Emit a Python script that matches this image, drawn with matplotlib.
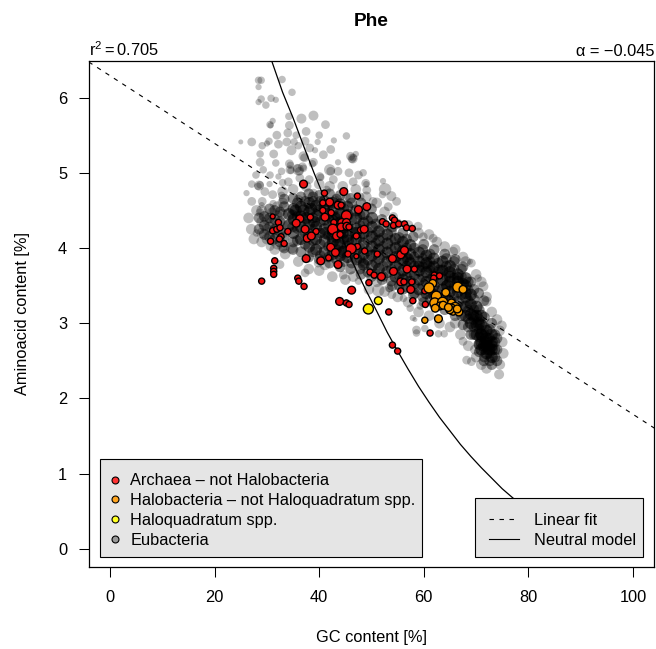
import matplotlib
matplotlib.use("Agg")
import matplotlib.pyplot as plt
from matplotlib.lines import Line2D
from matplotlib.patches import Rectangle
import numpy as np

plt.rcParams['font.family'] = ['Liberation Sans', 'DejaVu Sans']
plt.rcParams['mathtext.fontset'] = 'custom'
plt.rcParams['mathtext.rm'] = 'Liberation Sans'
plt.rcParams['mathtext.it'] = 'Liberation Sans'

# (GC %, aminoacid %, genome size)
archaea = [
    (37.0,4.85,7),(41.0,4.73,5.5),(44.7,4.75,7),(47.3,4.69,5.5),(40.7,4.60,5.5),(42.0,4.61,7),(43.6,4.57,7),
    (44.2,4.57,5.5),(49.1,4.55,7),(40.7,4.50,5.5),(42.3,4.47,5.5),(47.5,4.51,7),(45.2,4.43,9),(31.1,4.42,4.5),
    (36.3,4.39,7),(38.3,4.41,5.5),(41.1,4.41,7),(32.2,4.34,5.5),(35.6,4.33,7),(42.8,4.34,5.5),(44.3,4.34,7),
    (45.2,4.34,7),(37.3,4.25,7),(39.4,4.22,5.5),(42.6,4.25,9),(44.2,4.28,7),(45.3,4.29,7),(45.7,4.28,5.5),
    (47.9,4.24,5.5),(48.6,4.25,7),(31.1,4.23,5.5),(31.9,4.25,5.5),(32.5,4.27,5.5),(34.0,4.22,5.5),(43.3,4.16,7),
    (44.0,4.18,5.5),(47.1,4.16,5.5),(37.7,4.13,7),(38.5,4.16,7),(32.7,4.15,5.5),(32.4,4.12,5.5),(30.7,4.09,5.5),
    (33.3,4.06,5.5),(42.2,4.01,7),(47.3,4.02,5.5),(46.1,3.99,9),(43.1,3.94,7),(48.7,3.96,5.5),(45.5,3.92,5.5),
    (51.1,3.92,5.5),(47.1,3.89,4.5),(37.5,3.86,7),(40.3,3.83,7),(41.8,3.87,5.5),(31.5,3.83,5.5),(43.6,3.78,7),
    (54.0,3.86,7),(31.3,3.73,5.5),(31.3,3.69,5.5),(31.3,3.65,5.5),(29.0,3.56,5.5),(35.9,3.60,5.5),(36.1,3.56,5.5),
    (37.1,3.49,5.5),(49.7,3.68,5.5),(50.5,3.64,5.5),(51.9,3.62,7),(49.5,3.54,5.5),(54.2,3.69,7),(46.2,3.44,7),
    (43.9,3.29,7),(45.2,3.27,5.5),(45.7,3.25,5.5),(53.3,3.15,5.5),(52.1,4.35,5.5),(52.8,4.32,5.5),(54.0,4.40,5.5),
    (54.4,4.37,5.5),(54.2,4.30,5.5),(55.2,4.32,5.5),(56.3,4.32,5.5),(56.7,4.27,5.5),(57.8,4.26,5.5),(55.6,3.91,7),
    (56.3,3.97,7),(56.8,3.72,7),(58.2,3.72,5.5),(62.0,3.64,5.5),(63.0,3.63,5.5),(61.9,3.60,5.5),(55.6,3.55,7),
    (56.2,3.55,5.5),(57.7,3.55,5.5),(55.6,3.43,5.5),(57.5,3.45,7),(60.2,3.43,5.5),(57.9,3.30,5.5),(60.3,3.25,5.5),
    (61.2,2.87,5.5),(54.0,2.71,5.5),(55.0,2.63,5.5),
]
halobacteria = [
    (61.7,3.53,7),(61.0,3.47,9),(62.4,3.36,9),(64.2,3.41,7),(66.5,3.48,9),(67.5,3.45,7),(62.1,3.27,9),
    (63.6,3.28,9),(63.1,3.23,7),(62.2,3.20,7),(63.7,3.24,7),(65.3,3.27,7),(66.0,3.21,9),(65.2,3.19,9),
    (65.6,3.16,7),(66.7,3.15,7),(65.0,3.18,7),(66.4,3.19,7),(60.2,3.04,5.5),(62.8,3.06,7),(64.7,3.21,7),
]
haloquadratum = [(51.3,3.30,7),(49.4,3.19,9)]

# lone bacteria, mostly above and below the main band
eub_pale = [
    (28.4,6.23,6),(28.9,6.23,6),(28.4,6.14,5),(32.9,6.24,6),(34.8,6.07,6),(28.9,5.98,6),(28.4,5.94,5),(29.8,5.90,6),
    (30.8,5.99,6),(31.7,5.97,5),(38.9,5.76,8),(36.6,5.72,8),(34.2,5.75,6),(31.1,5.69,5),(30.6,5.64,6),(30.7,5.63,5),
    (34.3,5.63,7),(41.2,5.64,7),(31.9,5.50,7),(34.0,5.53,7),(37.5,5.55,7),(35.6,5.50,6),(40.0,5.50,6),(45.2,5.49,6),
    (25.0,5.41,4),(27.1,5.41,7),(30.4,5.42,6),(29.1,5.36,6),(32.2,5.38,7),(30.0,5.39,5),(33.8,5.41,7),(37.3,5.42,7),
    (42.8,5.43,5),(35.2,5.41,6),(39.7,5.41,5),(36.0,5.36,6),(34.7,5.30,8),(38.2,5.33,7),(42.2,5.31,7),(31.3,5.25,7),
    (37.0,5.22,8),(37.2,5.20,7),(39.2,5.30,5),(28.7,5.25,6),(40.8,5.24,7),(46.4,5.19,8),(46.5,5.20,6),(46.3,5.18,6),
    (46.0,5.22,7),(47.0,5.25,5),(28.7,5.14,7),(31.7,5.13,6),(34.3,5.12,7),(34.5,5.10,6),(36.8,5.08,7),(37.0,5.06,6),
    (38.9,5.14,7),(38.7,5.12,6),(43.6,5.14,5),(29.3,5.04,6),(36.0,5.04,9),(36.2,5.02,7),(35.8,5.06,7),(34.4,5.04,7),
    (34.6,5.03,6),(32.8,5.02,6),(42.0,5.04,9),(42.2,5.02,7),(43.6,5.02,7),(45.7,5.00,7),(48.4,5.00,6),(27.9,4.97,6),
    (30.6,4.97,6),(32.2,4.95,5),(40.1,4.95,7),(40.3,4.94,6),(47.5,4.97,7),(38.1,4.91,7),(36.3,4.93,7),(42.7,4.91,7),
    (46.5,4.88,7),(48.9,4.86,7),(49.0,4.85,5),(52.2,4.89,5),(27.1,4.85,6),(28.5,4.83,8),(28.7,4.84,6),(28.3,4.82,6),
    (30.5,4.85,5),(33.0,4.87,6),(34.1,4.88,7),(26.1,4.73,5),(29.6,4.75,7),(31.1,4.71,7),(32.8,4.70,6),(27.1,4.62,7),
    (29.1,4.62,7),(31.2,4.59,6),(29.0,4.57,5),(52.6,4.78,10),(52.1,4.71,6),(53.8,4.69,8),(54.8,4.62,7),(50.3,4.62,7),
    (36.0,4.64,8),(38.9,4.73,7),(41.4,4.77,7),(43.0,4.64,7),(45.2,4.68,7),(47.8,4.68,7),(49.1,4.77,7),(28.7,4.47,7),
    (53.2,4.55,7),(54.2,4.42,7),(54.8,4.33,7),(28.0,4.20,6),(30.6,4.02,7),(34.7,4.00,9),(32.5,3.78,7),(41.1,3.78,9),
    (39.8,3.80,7),(37.3,3.67,7),(44.6,3.64,7),(47.5,3.56,6),(48.4,3.80,9),(48.6,3.79,7),(48.2,3.81,7),(58.9,4.29,7),
    (59.9,4.15,7),(61.8,4.13,7),(65.6,3.95,8),(69.1,3.80,7),(68.8,3.82,5),(70.4,3.60,6),(71.4,3.49,8),(72.0,3.29,8),
    (74.9,2.97,8),(67.5,2.76,7),(69.8,2.65,8),(68.2,2.51,7),(69.1,2.49,7),(74.6,2.45,8),(74.4,2.32,8),(58.6,2.91,7),
    (58.6,2.87,6),(60.2,2.93,6),(62.8,2.86,6),(63.9,2.86,6),(57.4,3.20,6),(57.9,3.07,5),(58.3,3.05,4),(51.3,3.44,10),
    (53.9,3.38,7),(53.4,3.47,7),(53.5,3.46,6),(56.1,3.33,6),(59.3,3.23,6),
]
# rim of the main band and its paler left lobe
eub_rim = [
    (29.0,4.08),(31.5,3.98),(33.5,3.92),(36.0,3.82),(38.0,3.72),(40.0,3.70),(42.5,3.62),(45.0,3.58),(46.5,3.62),
    (49.5,3.45),(51.0,3.55),(52.5,3.42),(55.0,3.35),(57.0,3.28),(59.0,3.15),(61.0,3.10),(63.0,3.00),(65.0,2.95),
    (67.0,2.85),(66.0,3.00),(68.5,2.70),(70.0,2.55),(72.0,2.40),(71.0,2.45),(33.0,4.75),(35.0,4.78),(37.5,4.82),
    (40.0,4.85),(42.0,4.82),(44.5,4.82),(47.0,4.78),(49.0,4.68),(51.0,4.60),(52.5,4.48),(55.0,4.32),(57.0,4.30),
    (59.0,4.20),(61.0,4.18),(62.5,4.08),(64.0,4.02),(66.0,3.98),(67.5,3.88),(68.0,3.82),(70.0,3.65),(71.0,3.55),
    (72.0,3.35),(73.0,3.15),(74.0,3.05),(75.0,2.75),(75.2,2.60),(74.5,2.90),(26.5,4.40),(27.0,4.25),(27.5,4.12),
    (28.0,4.50),(29.0,4.20),(29.0,4.35),(29.0,4.50),(30.0,4.12),(30.0,4.25),(30.0,4.38),(31.0,4.10),(31.0,4.22),
    (31.0,4.35),(31.0,4.47),(32.0,4.05),(32.0,4.18),(32.0,4.30),(32.0,4.43),(32.0,4.55),(33.0,4.02),(33.0,4.20),
    (33.0,4.32),(33.0,4.45),(33.0,4.60),
]

# main band, read as columns (GC %, [aminoacid %]), stacked where the picture goes darker
eub_dark = [
    (34.2,[4.30,4.45]),(35.1,[4.20,4.38,4.52]),(36.5,[4.12,4.28,4.42,4.55]),(38.1,[4.02,4.18,4.32,4.48,4.60]),
    (39.4,[3.98,4.12,4.28,4.42,4.56]),(41.0,[3.95,4.10,4.25,4.38,4.52,4.62]),(42.6,[3.92,4.08,4.22,4.36,4.50,4.60]),
    (44.0,[3.90,4.05,4.20,4.34,4.46,4.58]),(45.4,[3.88,4.02,4.16,4.30,4.44,4.55]),(47.1,[3.85,3.98,4.12,4.26,4.40,4.50]),
    (48.5,[3.78,3.92,4.06,4.20,4.33,4.45]),(50.1,[3.76,3.90,4.02,4.15,4.28,4.40]),(51.4,[3.72,3.86,3.98,4.10,4.22]),
    (53.0,[3.68,3.82,3.94,4.06,4.18]),(54.6,[3.62,3.76,3.88,4.00,4.12]),(56.0,[3.58,3.70,3.84,3.96,4.08]),
    (57.4,[3.55,3.68,3.80,3.92,4.04]),(59.1,[3.45,3.58,3.70,3.82,3.94]),(60.5,[3.40,3.55,3.68,3.80,3.90]),
    (61.9,[3.38,3.50,3.62,3.75,3.86]),(63.6,[3.32,3.45,3.58,3.70,3.82]),(65.0,[3.30,3.42,3.55,3.68,3.76]),
    (66.5,[3.28,3.42,3.55,3.65]),(68.0,[3.10,3.22,3.35,3.50,3.60]),(69.0,[3.00,3.12,3.25,3.38]),
    (70.1,[2.85,2.98,3.10,3.22]),(71.0,[2.65,2.75,2.85,2.98,3.10]),(72.0,[2.60,2.70,2.80,2.90]),
    (73.0,[2.55,2.65,2.75,2.85]),
]
eub_mid = [
    (28.5,[4.25,4.40]),(29.5,[4.18,4.30,4.42]),(30.5,[4.15,4.28,4.40,4.52]),(31.5,[4.12,4.25,4.38,4.50]),
    (32.5,[4.08,4.22,4.35,4.48]),(33.3,[4.00,4.15,4.55,4.65]),(35.0,[3.98,4.08,4.66]),(36.5,[3.95,4.68]),
    (38.0,[3.88,4.72]),(40.0,[3.85,4.70]),(42.0,[3.80,4.72]),(44.0,[3.75,4.70]),(46.0,[3.72,4.66]),
    (48.0,[3.65,4.60]),(50.0,[3.62,4.52]),(52.0,[3.58,4.38]),(54.0,[3.50,4.28]),(56.0,[3.45,4.20]),
    (58.0,[3.38,4.15]),(60.0,[3.28,4.05]),(62.0,[3.25,3.98]),(64.0,[3.18,3.92]),(66.0,[3.10,3.85]),
    (67.5,[2.98,3.75]),(69.0,[2.85,3.55]),(70.5,[2.72,3.40]),(71.5,[2.50,3.30]),(73.0,[2.45,3.00]),
    (74.0,[2.50,2.65,2.80]),
    (34.9,[4.28,4.44]),(35.8,[4.10,4.26,4.42,4.60]),(37.3,[4.05,4.20,4.35,4.62]),(38.8,[3.95,4.10,4.25,4.40,4.62,4.68]),
    (40.2,[3.90,4.05,4.20,4.35,4.62]),(41.8,[3.88,4.02,4.17,4.30,4.58]),(43.3,[3.85,3.98,4.13,4.28,4.42,4.65]),
    (44.7,[3.82,3.96,4.12,4.26,4.52]),(46.2,[3.80,3.94,4.08,4.22,4.37,4.60]),(47.8,[3.72,3.86,4.00,4.14,4.30,4.44]),
    (49.3,[3.68,3.84,3.96,4.10,4.22,4.36]),(50.8,[3.66,3.80,3.93,4.06,4.18,4.32]),(52.2,[3.62,3.76,3.90,4.02,4.14,4.28]),
    (53.8,[3.56,3.72,3.85,3.98,4.10,4.22]),(55.3,[3.50,3.64,3.78,3.90,4.02,4.14]),(56.7,[3.48,3.62,3.76,3.88,4.00,4.12]),
    (58.2,[3.40,3.52,3.64,3.76,3.88,4.00]),(59.8,[3.35,3.50,3.62,3.75,3.86,3.98]),(61.2,[3.32,3.45,3.58,3.70,3.82,3.92]),
    (62.8,[3.28,3.42,3.55,3.68,3.80]),(64.3,[3.24,3.38,3.50,3.63,3.76,3.86]),(65.8,[3.20,3.35,3.48,3.60,3.72,3.82]),
    (67.2,[3.10,3.22,3.38,3.50,3.62,3.72]),(68.5,[2.95,3.06,3.17,3.30,3.44,3.55]),(69.6,[2.85,2.95,3.05,3.18,3.32,3.45]),
    (70.6,[2.62,2.72,2.82,2.92,3.05,3.18]),(71.6,[2.55,2.65,2.75,2.85,2.95,3.08]),(72.6,[2.50,2.60,2.70,2.80,2.92]),
    (73.6,[2.55,2.65,2.75,2.85]),
]
# the patches that come out near black
eub_black = [
    (35.5,4.50),(37.0,4.50),(38.5,4.52),(37.5,4.40),(40.0,4.50),(41.5,4.45),(43.0,4.40),(39.0,4.35),(41.2,4.20),
    (42.5,4.15),(43.5,4.05),(44.5,4.20),(45.5,4.10),(44.5,3.95),(47.0,4.20),(57.0,3.85),(59.0,3.75),(61.0,3.75),
    (63.0,3.70),(65.0,3.62),(66.5,3.60),(67.5,3.52),(64.5,3.50),(68.0,3.40),(69.5,3.10),(71.0,2.85),(72.0,2.75),
    (72.5,2.65),(71.5,2.70),(73.0,2.70),(70.5,3.00),
]

fit_intercept = 6.29
fit_slope = -0.045
neutral_gc = [30,31,33,35,37,39,41,43,45,47,49,51,53,55,57,59,61,63,65,67,69,71,73,75,77,79]
neutral_aa = [6.66,6.47,6.07,5.73,5.36,5.00,4.66,4.35,4.03,3.72,3.43,3.16,2.88,2.63,2.39,2.16,1.95,1.75,1.57,1.39,1.23,1.08,0.94,0.80,0.68,0.57]

W, H = 656, 649
FS = 11.75
AX_L, AX_R, AX_T, AX_B = 88.7, 654.3, 60.7, 567


def columns(rows, size, stack):
    gc, aa = [], []
    for x, ys in rows:
        for y in ys:
            gc += [x] * stack
            aa += [y] * stack
    return gc, aa, [size] * len(gc)


def stacked(rows, size, stack):
    gc, aa = zip(*rows)
    return list(gc) * stack, list(aa) * stack, [size] * (len(gc) * stack)


def dots(ax, rows, color, zorder):
    gc, aa, mb = zip(*rows)
    ax.scatter(gc, aa, s=(np.array(mb) * 0.8) ** 2, c=color, edgecolors='black', linewidths=1.0, zorder=zorder)


def frac(px, py):
    return (px - AX_L) / (AX_R - AX_L), (AX_B - py) / (AX_B - AX_T)


def legend_box(ax, x0, y0, x1, y1):
    fx0, fy0 = frac(x0, y1)
    fx1, fy1 = frac(x1, y0)
    ax.add_patch(Rectangle((fx0, fy0), fx1 - fx0, fy1 - fy0, transform=ax.transAxes, facecolor='#e5e5e5',
                           edgecolor='black', linewidth=0.8, zorder=7))


def mark(color):
    return Line2D([], [], ls='', marker='o', ms=5, mfc=color, mec='black', mew=0.8)


fig = plt.figure(figsize=(W / 100, H / 100), dpi=100)
ax = fig.add_axes([AX_L / W, 1 - AX_B / H, (AX_R - AX_L) / W, (AX_B - AX_T) / H])

gc, aa, mb = zip(*eub_pale)
parts = [(list(gc), list(aa), list(mb)), stacked(eub_rim, 8.5, 1), columns(eub_mid, 8.5, 2),
         columns(eub_dark, 9.5, 3), stacked(eub_black, 9.5, 3)]
all_gc = sum((p[0] for p in parts), [])
all_aa = sum((p[1] for p in parts), [])
all_mb = sum((p[2] for p in parts), [])
ax.scatter(all_gc, all_aa, s=(np.array(all_mb) * 0.9) ** 2, c='black', alpha=0.25, linewidths=0, zorder=2)

xs = np.array([-4.08, 104.08])
ax.plot(xs, fit_intercept + fit_slope * xs, color='black', lw=0.8, ls=(0, (4, 5)), zorder=3)
ax.plot(neutral_gc, neutral_aa, color='black', lw=0.9, zorder=3)

dots(ax, archaea, '#ee1111', 4)
dots(ax, halobacteria, '#f59a00', 5)
dots(ax, haloquadratum, '#ffee00', 6)

ax.set_xlim(-4.08, 104.08)
ax.set_ylim(-0.24, 6.49)
ax.set_xticks([0, 20, 40, 60, 80, 100])
ax.set_yticks([0, 1, 2, 3, 4, 5, 6])
ax.tick_params(axis='both', length=7.5, width=0.75, labelsize=FS)
ax.tick_params(axis='x', pad=9)
ax.tick_params(axis='y', pad=8)
for s in ax.spines.values():
    s.set_linewidth(0.9)

ax.set_xlabel('GC content [%]', fontsize=FS, labelpad=18)
ax.set_ylabel('Aminoacid content [%]', fontsize=FS, labelpad=20)
fig.text(371 / W, 1 - 21 / H, 'Phe', fontsize=13.8, fontweight='bold', ha='center', va='center')
ax.text(0, 1.004, r'$\mathrm{r}^2 = \mathrm{0.705}$', transform=ax.transAxes, fontsize=FS, ha='left', va='bottom')
ax.text(1, 1.004, 'α = −0.045', transform=ax.transAxes, fontsize=FS, ha='right', va='bottom')

legend_box(ax, 100, 459.3, 421.7, 556.7)
legend_box(ax, 475, 498.3, 643, 557.3)
leg1 = ax.legend([mark('#ff3333'), mark('#ffa520'), mark('#ffff22'), mark('#999999')],
                 ['Archaea – not Halobacteria', 'Halobacteria – not Haloquadratum spp.', 'Haloquadratum spp.', 'Eubacteria'],
                 loc='lower left', bbox_to_anchor=frac(107, 548), borderaxespad=0, borderpad=0, frameon=False,
                 fontsize=FS, handlelength=1.0, handletextpad=0.43, labelspacing=0.3)
leg1.set_zorder(8)
ax.add_artist(leg1)
leg2 = ax.legend([Line2D([], [], color='black', lw=0.8, ls=(0, (4, 5))), Line2D([], [], color='black', lw=0.8)],
                 ['Linear fit', 'Neutral model'],
                 loc='lower left', bbox_to_anchor=frac(489, 548), borderaxespad=0, borderpad=0, frameon=False,
                 fontsize=FS, handlelength=1.84, handletextpad=0.92, labelspacing=0.3)
leg2.set_zorder(8)

fig.savefig('out.png', dpi=100)
